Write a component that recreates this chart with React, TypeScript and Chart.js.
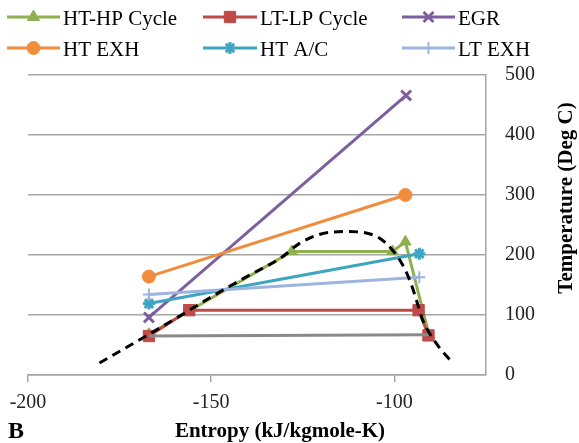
import React, { useEffect, useRef } from "react";
import { Chart, registerables } from "chart.js";

Chart.register(...registerables);

// ---- data ----
const xTickValues = [-200, -150, -100];
const yTickValues = [0, 100, 200, 300, 400, 500];

const htHpX = [-167, -128, -100.5, -97, -90.5];
const htHpY = [68, 206, 206, 222, 66];

const ltLpX = [-167, -156, -93.4, -90.7];
const ltLpY = [65, 108, 108, 66];

const egrX = [-167, -96.8];
const egrY = [96, 466];

const htExhX = [-167, -97];
const htExhY = [164, 300];

const htAcX = [-167, -93.2];
const htAcY = [119, 202];

const ltExhX = [-167, -93.2];
const ltExhY = [134, 163];

const grayX = [-167, -90.5];
const grayY = [65, 67];

const domeX = [-180.5, -170, -160, -150, -140, -131, -126, -120, -113, -108, -104, -100.5, -97.7, -95.5, -94, -92.3, -88.6, -84];
const domeY = [20, 57, 93, 130, 165, 195, 219, 235, 239, 237, 228, 208, 183, 153, 125, 92, 53, 19];

const legendLabels = ["HT-HP Cycle", "LT-LP Cycle", "EGR", "HT EXH", "HT A/C", "LT EXH"];

const GREEN = "#8fb04e";
const RED = "#be4b48";
const PURPLE = "#7d5fa0";
const ORANGE = "#f08c3c";
const TEAL = "#3ea5c0";
const LIGHTBLUE = "#9db5de";
const GRAY = "#8a8a8a";

const pts = (xs: number[], ys: number[]) => xs.map((x, i) => ({ x, y: ys[i] }));

const SERIF = "'Liberation Serif', 'DejaVu Serif', serif";

function drawMarker(ctx: CanvasRenderingContext2D, style: string, x: number, y: number, r: number, color: string) {
  ctx.save();
  ctx.fillStyle = color;
  ctx.strokeStyle = color;
  ctx.lineWidth = 1;
  ctx.beginPath();
  if (style === "triangle") {
    let rad = 0;
    ctx.moveTo(x + Math.sin(rad) * r, y - Math.cos(rad) * r);
    rad += (2 * Math.PI) / 3;
    ctx.lineTo(x + Math.sin(rad) * r, y - Math.cos(rad) * r);
    rad += (2 * Math.PI) / 3;
    ctx.lineTo(x + Math.sin(rad) * r, y - Math.cos(rad) * r);
    ctx.closePath();
    ctx.fill();
    ctx.stroke();
  } else if (style === "rect") {
    const s = r * Math.SQRT1_2;
    ctx.rect(x - s, y - s, 2 * s, 2 * s);
    ctx.fill();
    ctx.stroke();
  } else if (style === "circle") {
    ctx.arc(x, y, r, 0, Math.PI * 2);
    ctx.fill();
    ctx.stroke();
  } else if (style === "crossRot") {
    ctx.lineWidth = 3;
    const d = r * Math.SQRT1_2;
    ctx.moveTo(x - d, y - d);
    ctx.lineTo(x + d, y + d);
    ctx.moveTo(x - d, y + d);
    ctx.lineTo(x + d, y - d);
    ctx.stroke();
  } else if (style === "star") {
    ctx.lineWidth = 3;
    const d = r * Math.SQRT1_2;
    ctx.moveTo(x - d, y - d);
    ctx.lineTo(x + d, y + d);
    ctx.moveTo(x - d, y + d);
    ctx.lineTo(x + d, y - d);
    ctx.moveTo(x, y - r);
    ctx.lineTo(x, y + r);
    ctx.stroke();
  } else if (style === "cross") {
    ctx.lineWidth = 2;
    ctx.moveTo(x, y - r);
    ctx.lineTo(x, y + r);
    ctx.moveTo(x - r, y);
    ctx.lineTo(x + r, y);
    ctx.stroke();
  }
  ctx.restore();
}

const legendStyles = [
  { color: GREEN, style: "triangle", r: 7 },
  { color: RED, style: "rect", r: 8 },
  { color: PURPLE, style: "crossRot", r: 7 },
  { color: ORANGE, style: "circle", r: 6.5 },
  { color: TEAL, style: "star", r: 6 },
  { color: LIGHTBLUE, style: "cross", r: 6 },
];

const decorPlugin = {
  id: "decor",
  afterDraw(chart: any) {
    const ctx: CanvasRenderingContext2D = chart.ctx;
    ctx.save();
    // legend
    const colLine = [7, 203, 402];
    const colEnd = [60, 257, 455];
    const rowY = [17, 48];
    ctx.font = `21px ${SERIF}`;
    ctx.textBaseline = "alphabetic";
    ctx.textAlign = "left";
    legendLabels.forEach((label, i) => {
      const row = Math.floor(i / 3);
      const col = i % 3;
      const st = legendStyles[i];
      const y = rowY[row];
      ctx.strokeStyle = st.color;
      ctx.lineWidth = 3;
      ctx.beginPath();
      ctx.moveTo(colLine[col], y);
      ctx.lineTo(colEnd[col], y);
      ctx.stroke();
      drawMarker(ctx, st.style, (colLine[col] + colEnd[col]) / 2, y, st.r, st.color);
      ctx.fillStyle = "#000";
      ctx.fillText(label, colEnd[col] + 3, y + 8);
    });
    // x title
    ctx.font = `bold 21px ${SERIF}`;
    ctx.textAlign = "center";
    ctx.fillStyle = "#000";
    ctx.fillText("Entropy (kJ/kgmole-K)", 280, 437);
    // B label
    ctx.font = `bold 24px ${SERIF}`;
    ctx.textAlign = "left";
    ctx.fillText("B", 8, 438);
    // y title
    ctx.font = `bold 21px ${SERIF}`;
    ctx.translate(567, 198);
    ctx.rotate(-Math.PI / 2);
    ctx.textAlign = "center";
    ctx.textBaseline = "middle";
    ctx.fillText("Temperature (Deg C)", 0, 0);
    ctx.restore();
  },
};

export default function App() {
  const ref = useRef<HTMLCanvasElement | null>(null);

  useEffect(() => {
    if (!ref.current) return;
    const line = (
      label: string,
      xs: number[],
      ys: number[],
      color: string,
      pointStyle: any,
      radius: number,
      order: number,
      pointBorderWidth = 1
    ) => ({
      label,
      data: pts(xs, ys),
      showLine: true,
      borderColor: color,
      backgroundColor: color,
      borderWidth: 3,
      pointStyle,
      pointRadius: radius,
      pointBackgroundColor: color,
      pointBorderColor: color,
      pointBorderWidth,
      order,
      tension: 0,
    });

    const chart = new Chart(ref.current, {
      type: "scatter",
      data: {
        datasets: [
          line("HT-HP Cycle", htHpX, htHpY, GREEN, "triangle", 6.5, 8),
          line("LT-LP Cycle", ltLpX, ltLpY, RED, "rect", 8, 7),
          line("EGR", egrX, egrY, PURPLE, "crossRot", 7, 6, 3),
          line("HT EXH", htExhX, htExhY, ORANGE, "circle", 6.5, 5),
          line("HT A/C", htAcX, htAcY, TEAL, "star", 6, 4, 3),
          line("LT EXH", ltExhX, ltExhY, LIGHTBLUE, "cross", 6, 3, 2),
          line("gray", grayX, grayY, GRAY, "circle", 0, 2),
          {
            label: "dome",
            data: pts(domeX, domeY),
            showLine: true,
            borderColor: "#000",
            borderWidth: 3,
            borderDash: [9, 6],
            pointRadius: 0,
            tension: 0.35,
            cubicInterpolationMode: "monotone",
            order: 1,
          } as any,
        ],
      },
      options: {
        animation: false,
        responsive: false,
        devicePixelRatio: 1,
        layout: { padding: { top: 75, left: 28, right: 0, bottom: 0 } },
        plugins: {
          legend: { display: false },
          tooltip: { enabled: false },
          title: { display: false },
        },
        scales: {
          x: {
            type: "linear",
            position: "bottom",
            min: -200,
            max: -75,
            afterFit: (s: any) => {
              s.height = 68;
            },
            afterBuildTicks: (s: any) => {
              s.ticks = xTickValues.map((v) => ({ value: v }));
            },
            grid: {
              drawOnChartArea: false,
              drawTicks: true,
              tickLength: 7,
              color: "#a6a6a6",
              lineWidth: 1.5,
            },
            border: { display: true, color: "#a6a6a6", width: 1.5 },
            ticks: {
              padding: 9,
              color: "#222",
              font: { family: SERIF, size: 20 },
              maxRotation: 0,
            },
          },
          y: {
            type: "linear",
            position: "right",
            min: 0,
            max: 500,
            afterFit: (s: any) => {
              s.width = 93;
            },
            afterBuildTicks: (s: any) => {
              s.ticks = yTickValues.map((v) => ({ value: v }));
            },
            grid: {
              drawTicks: false,
              color: "#a6a6a6",
              lineWidth: 1.5,
            },
            border: { display: true, color: "#a6a6a6", width: 1.5 },
            ticks: {
              padding: 19,
              color: "#222",
              font: { family: SERIF, size: 20 },
            },
          },
        },
      },
      plugins: [decorPlugin],
    } as any);
    return () => chart.destroy();
  }, []);

  return (
    <div style={{ position: "fixed", left: 0, top: 0, width: 579, height: 443, background: "#fff" }}>
      <canvas ref={ref} width={579} height={443} style={{ width: 579, height: 443, display: "block" }} />
    </div>
  );
}
